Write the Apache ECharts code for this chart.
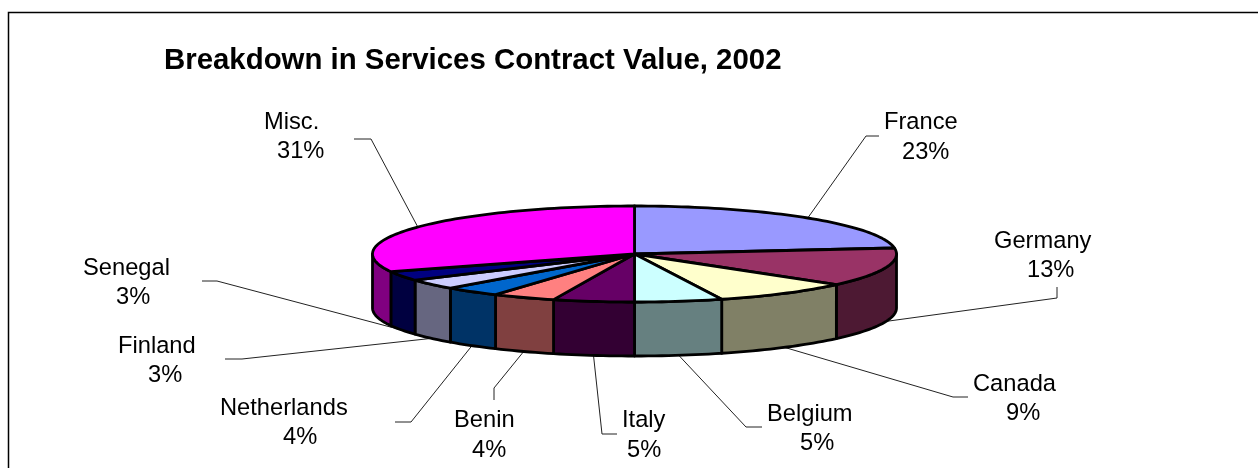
<!DOCTYPE html>
<html>
<head>
<meta charset="utf-8">
<style>html,body{margin:0;padding:0;background:#fff}#c{width:1258px;height:468px}</style>
<script src="https://cdn.jsdelivr.net/npm/echarts@6/dist/echarts.min.js"></script>
</head>
<body>
<div id="c"></div>
<script>
const categories = ['France','Germany','Canada','Belgium','Italy','Benin','Netherlands','Finland','Senegal','Misc.'];
const values = [23,13,8.6,5.4,5,3.9,3.5,3.4,3.2,31];
const topColors = ['#9999FF','#993366','#FFFFCC','#CCFFFF','#660066','#FF8080','#0066CC','#CCCCFF','#000080','#FF00FF'];
const wallColors = ['#4D4D80','#4D1933','#808066','#668080','#330033','#804040','#003366','#666680','#000040','#800080'];

// Layout only: label text anchors and leader-line elbows, in page pixels.
const labelLayout = [
  {name:[884,122], pct:[902,152], elbow:[866,136], end:[879,136]},
  {name:[994,241], pct:[1027,270], elbow:[1057,298], end:[1057,287]},
  {name:[973,384], pct:[1006,413], elbow:[953,397], end:[968,397]},
  {name:[767,414], pct:[800,443], elbow:[746,427], end:[762,427]},
  {name:[622,420], pct:[627,450], elbow:[602,434], end:[617,434]},
  {name:[454,420], pct:[472,450], elbow:[494,388], end:[494,400]},
  {name:[220,408], pct:[283,437], elbow:[411,422], end:[395,422]},
  {name:[118,346], pct:[148,375], elbow:[242,359], end:[225,359]},
  {name:[83,268], pct:[116,297], elbow:[217,281], end:[202,281]},
  {name:[264,122], pct:[277,151], elbow:[371,139], end:[354,139]}
];
const pie = {cx:634.5, cy:254, rx:262, ry:48, depth:54};
const FONT = '"Liberation Sans", Arial, sans-serif';

const total = values.reduce((a,b)=>a+b,0);
function rimPoint(deg, drop){
  const t = deg*Math.PI/180;
  return [pie.cx+pie.rx*Math.sin(t), pie.cy-pie.ry*Math.cos(t)+(drop||0)];
}
function arc(a0,a1,drop){
  const n = Math.max(2,Math.ceil(Math.abs(a1-a0)/1.5));
  const pts=[];
  for(let i=0;i<=n;i++) pts.push(rimPoint(a0+(a1-a0)*i/n,drop));
  return pts;
}
const strokeStyle = {stroke:'#000',lineWidth:2.8,lineJoin:'round'};

function renderItem(params, api){
  const i = params.dataIndex;
  let before = 0;
  for(let k=0;k<i;k++) before += values[k];
  const v = api.value(0);
  const a0 = before/total*360, a1 = (before+v)/total*360;
  const mid = (a0+a1)/2;
  const children = [];
  const L = labelLayout[i];

  // leader line
  const onFront = mid>90 && mid<270;
  const anchor = rimPoint(mid, onFront?pie.depth:0);
  children.push({type:'polyline', z2:0, shape:{points:[anchor,L.elbow,L.end]},
    style:{stroke:'#222',lineWidth:1,fill:null}});

  // wall (only the front half of the rim is visible)
  const w0 = Math.max(a0,90), w1 = Math.min(a1,270);
  if(w1>w0){
    const pts = arc(w0,w1,0).concat(arc(w1,w0,pie.depth));
    children.push({type:'polygon', z2:1, shape:{points:pts},
      style:Object.assign({fill:wallColors[i]},strokeStyle)});
  }
  // top face
  children.push({type:'polygon', z2:2, shape:{points:[[pie.cx,pie.cy]].concat(arc(a0,a1,0))},
    style:Object.assign({fill:topColors[i]},strokeStyle)});

  // labels
  const txt = (s,p)=>({type:'text', z2:3, x:p[0], y:p[1],
    style:{text:s, fill:'#000', font:'23.7px '+FONT, textAlign:'left', textVerticalAlign:'middle'}});
  children.push(txt(categories[i],L.name));
  children.push(txt(Math.round(v/total*100)+'%',L.pct));
  return {type:'group', children};
}

const chart = echarts.init(document.getElementById('c'),null,{renderer:'canvas'});
chart.setOption({
  animation:false,
  backgroundColor:'#fff',
  title:{text:'Breakdown in Services Contract Value, 2002', left:159, top:41,
    textStyle:{fontFamily:FONT, fontWeight:'bold', fontSize:29.4, color:'#000'}},
  graphic:[{type:'polyline', silent:true, shape:{points:[[8.5,468],[8.5,12.5],[1258,12.5]]},
    style:{stroke:'#000',lineWidth:1.5,fill:null}}],
  series:[{type:'custom', coordinateSystem:'none', silent:true, renderItem,
    data:values.map(v=>[v])}]
});
</script>
</body>
</html>
